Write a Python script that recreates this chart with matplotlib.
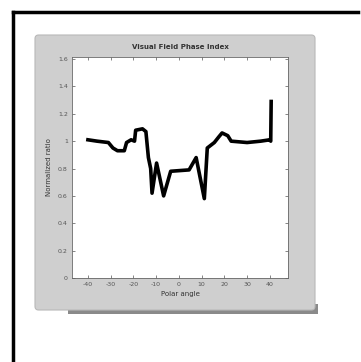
import matplotlib
matplotlib.use("Agg")
import matplotlib.pyplot as plt
from matplotlib.patches import FancyBboxPatch, Rectangle
from matplotlib.lines import Line2D

# values
angle = [-40, -36, -31, -29, -27, -24, -23, -21, -19.5, -19, -16, -14.5,
         -13.4, -12.4, -11.8, -9.8, -6.7, -3.6, 4.5, 7.6, 11.2, 12.5,
         15.6, 17.5, 19, 21.5, 23, 30, 36, 40, 40.4, 40.6]
index = [1.01, 1.00, 0.99, 0.95, 0.93, 0.93, 0.99, 1.01, 1.00, 1.08, 1.09, 1.07,
         0.88, 0.80, 0.62, 0.84, 0.60, 0.78, 0.79, 0.88, 0.58, 0.95,
         0.99, 1.03, 1.06, 1.04, 1.00, 0.99, 1.00, 1.01, 1.00, 1.29]

xticks = [-40, -30, -20, -10, 0, 10, 20, 30, 40]
yticks = [0, 0.2, 0.4, 0.6, 0.8, 1, 1.2, 1.4, 1.6]

W, H = 361, 362
fig = plt.figure(figsize=(W / 100, H / 100), dpi=100, facecolor="white")

# black frame of the scanned page (left and top)
fig.add_artist(Line2D([13 / W, 13 / W], [0, 1 - 12 / H], transform=fig.transFigure,
                      color="black", lw=2.5, zorder=0))
fig.add_artist(Line2D([13 / W, 358 / W], [1 - 12 / H, 1 - 12 / H], transform=fig.transFigure,
                      color="black", lw=2.5, zorder=0))

# shadow + grey matlab figure panel
fig.add_artist(Rectangle((68 / W, 1 - 314 / H), 250 / W, 10 / H, transform=fig.transFigure,
                         facecolor="#8a8a8a", edgecolor="none", zorder=0))
fig.add_artist(FancyBboxPatch((35 / W, 1 - 310 / H), 280 / W, 275 / H, transform=fig.transFigure,
                              boxstyle="round,pad=0,rounding_size=0.01",
                              facecolor="#cfcfcf", edgecolor="#b8b8b8", lw=0.8, zorder=0))

ax = fig.add_axes([72 / W, 1 - 278 / H, 216 / W, 221 / H])
ax.set_zorder(2)
ax.set_facecolor("white")
ax.plot(angle, index, color="black", lw=2.6, solid_joinstyle="round")

ax.set_xlim(-47, 48)
ax.set_ylim(0, 1.615)
ax.set_xticks(xticks)
ax.set_yticks(yticks)
ax.set_xticklabels(["%g" % t for t in xticks])
ax.set_yticklabels(["%g" % t for t in yticks])
ax.tick_params(direction="in", top=True, right=True, length=2.5, width=0.5,
               labelsize=4.5, colors="#555555", pad=3)
for s in ax.spines.values():
    s.set_color("#666666")
    s.set_linewidth(0.6)

ax.set_title("Visual Field Phase Index", fontsize=5, color="#333333", pad=6, fontweight="bold")
ax.set_xlabel("Polar angle", fontsize=5, color="#333333", labelpad=3)
ax.set_ylabel("Normalized ratio", fontsize=5, color="#333333", labelpad=4)

fig.savefig("out.png", dpi=100, facecolor="white")
